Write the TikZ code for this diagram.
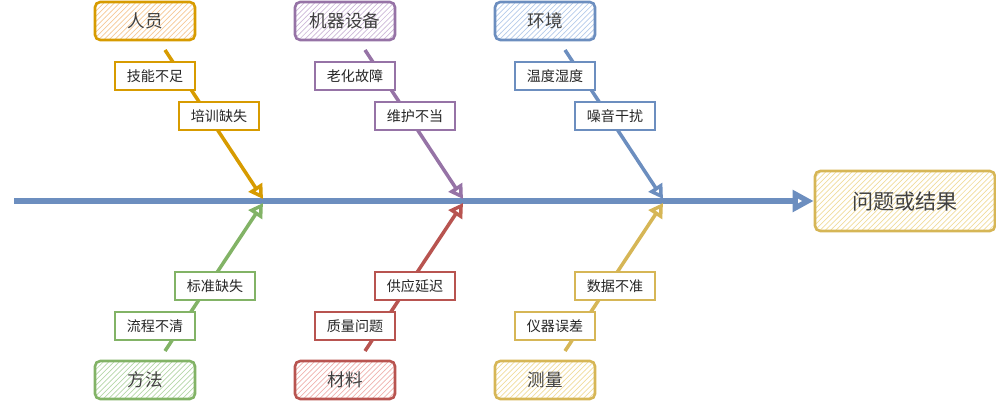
\documentclass[tikz,border=0pt]{standalone}
\usepackage{fontspec}
\setmainfont{Noto Sans CJK SC}
\usetikzlibrary{arrows.meta,patterns,backgrounds}

\definecolor{orgD}{HTML}{D79B00}\definecolor{orgL}{HTML}{F5C896}
\definecolor{purD}{HTML}{9673A6}\definecolor{purL}{HTML}{CDB8D8}
\definecolor{bluD}{HTML}{6C8EBF}\definecolor{bluL}{HTML}{B5CBEA}
\definecolor{grnD}{HTML}{82B366}\definecolor{grnL}{HTML}{B5D6A8}
\definecolor{redD}{HTML}{B85450}\definecolor{redL}{HTML}{EFB2AE}
\definecolor{ylwD}{HTML}{D6B656}\definecolor{ylwL}{HTML}{F0DC9C}

\newlength{\pxu}\setlength{\pxu}{0.02cm}
\tikzset{
  catbox/.style n args={2}{draw=#1,line width=1.5pt,rounded corners=3pt,
    pattern=north east lines,pattern color=#2,minimum width=100\pxu,
    minimum height=38\pxu,font=\normalsize,text=black!75},
  causebox/.style={draw=#1,fill=white,line width=0.8pt,minimum width=80\pxu,
    minimum height=28\pxu,font=\footnotesize,text=black!85,inner sep=1pt},
  bone/.style={draw=#1,line width=2pt,-{Triangle[open,length=8pt,width=9pt]}}
}

\begin{document}
\begin{tikzpicture}[x=0.02cm,y=-0.02cm]
\useasboundingbox (0,0) rectangle (996,402);

%result
\node[catbox={ylwD}{ylwL},minimum width=180\pxu,minimum height=60\pxu,font=\large] (res) at (905,201) {问题或结果};

%top categories
\node[catbox={orgD}{orgL}] (ppl) at (145,21) {人员};
\node[catbox={purD}{purL}] (mac) at (345,21) {机器设备};
\node[catbox={bluD}{bluL}] (env) at (545,21) {环境};
%bottom categories
\node[catbox={grnD}{grnL}] (mtd) at (145,380) {方法};
\node[catbox={redD}{redL}] (mat) at (345,380) {材料};
\node[catbox={ylwD}{ylwL}] (msr) at (545,380) {测量};

%causes
\node[causebox=orgD] (c11) at (155,76) {技能不足};
\node[causebox=orgD] (c12) at (219,116) {培训缺失};
\node[causebox=purD] (c21) at (355,76) {老化故障};
\node[causebox=purD] (c22) at (415,116) {维护不当};
\node[causebox=bluD] (c31) at (555,76) {温度湿度};
\node[causebox=bluD] (c32) at (615,116) {噪音干扰};
\node[causebox=grnD] (c41) at (155,326) {流程不清};
\node[causebox=grnD] (c42) at (215,286) {标准缺失};
\node[causebox=redD] (c51) at (355,326) {质量问题};
\node[causebox=redD] (c52) at (415,286) {供应延迟};
\node[causebox=ylwD] (c61) at (555,326) {仪器误差};
\node[causebox=ylwD] (c62) at (615,286) {数据不准};

%bone ends
\coordinate (t1) at (165,50);  \coordinate (h1) at (263,199);
\coordinate (t2) at (365,50);  \coordinate (h2) at (463,199);
\coordinate (t3) at (565,50);  \coordinate (h3) at (663,199);
\coordinate (t4) at (165,351); \coordinate (h4) at (263,203);
\coordinate (t5) at (365,351); \coordinate (h5) at (463,203);
\coordinate (t6) at (565,351); \coordinate (h6) at (663,203);
\coordinate (s0) at (14,201);

\begin{scope}[on background layer]
\draw[bone=bluD,line width=3.5pt,-{Triangle[open,length=12pt,width=12pt]}] (s0) -- (res.west);
\draw[bone=orgD] (t1) -- (h1);
\draw[bone=purD] (t2) -- (h2);
\draw[bone=bluD] (t3) -- (h3);
\draw[bone=grnD] (t4) -- (h4);
\draw[bone=redD] (t5) -- (h5);
\draw[bone=ylwD] (t6) -- (h6);
\end{scope}
\end{tikzpicture}
\end{document}
